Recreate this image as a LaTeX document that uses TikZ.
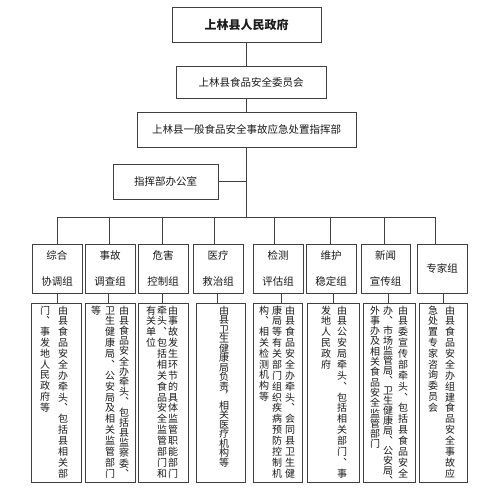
\documentclass[tikz,border=0pt]{standalone}
\usepackage{fontspec}
\setmainfont{Noto Sans CJK SC}
\newfontfamily\cjkv[RawFeature=+vert]{Noto Sans CJK SC}
\definecolor{linec}{HTML}{404040}
\definecolor{txtc}{HTML}{1A1A1A}
\makeatletter
\def\vc@item#1{\hbox to 11pt{\hss\vrule height 8.8pt depth 1.2pt width 0pt\smash{#1}\hss}}
\def\vc@loopF#1{\ifx#1\relax\else\vc@item{#1}\vfill\expandafter\vc@loopF\fi}
\def\vc@loopN#1{\ifx#1\relax\else\vc@item{#1}\vskip\vcgap\expandafter\vc@loopN\fi}
\newcommand\vfullcol[1]{\vbox to 172pt{\offinterlineskip\cjkv\fontsize{10}{10}\selectfont\vc@loopF#1\relax\unskip}}
\newcommand\vnatcol[2][0.8pt]{\vbox{\offinterlineskip\def\vcgap{#1}\cjkv\fontsize{10}{10}\selectfont\vc@loopN#2\relax\unskip}}
\makeatother
\tikzset{
  bx/.style={draw=linec, line width=0.8pt, inner sep=0pt, text=txtc, font=\fontsize{10.5}{12}\selectfont},
  grp/.style={bx, minimum width=50pt, minimum height=49pt, align=center, font=\fontsize{10.5}{26}\selectfont},
  det/.style={bx, minimum height=179pt},
  vcolnode/.style={inner sep=0pt, anchor=north, text=txtc},
  conn/.style={draw=linec, line width=0.8pt}
}
\begin{document}
\begin{tikzpicture}[x=1pt,y=-1pt]
\useasboundingbox (0,0) rectangle (485,500);
% top levels
\node[bx, minimum width=149pt, minimum height=35pt, font=\bfseries\fontsize{12}{14}\selectfont] (gov) at (246.5,24.5) {上林县人民政府};
\node[bx, minimum width=150pt, minimum height=32pt] (com) at (251,82) {上林县食品安全委员会};
\node[bx, minimum width=219pt, minimum height=35pt] (hq) at (246.5,129.5) {上林县一般食品安全事故应急处置指挥部};
\node[bx, minimum width=105pt, minimum height=35pt] (off) at (165.5,181.5) {指挥部办公室};
\coordinate (bus) at (246.5,217);
\draw[conn] (gov.south) -- (gov.south |- com.north);
\draw[conn] (gov.south |- com.south) -- (hq.north);
\draw[conn] (hq.south) -- (bus);
\draw[conn] (off.east) -- (off.east -| hq.south);
% groups
\node[grp] (g1) at (57,268.5) {综合\\协调组};
\node[grp] (g2) at (110,268.5) {事故\\调查组};
\node[grp] (g3) at (163,268.5) {危害\\控制组};
\node[grp] (g4) at (218,268.5) {医疗\\救治组};
\node[grp] (g5) at (278,268.5) {检测\\评估组};
\node[grp] (g6) at (331,268.5) {维护\\稳定组};
\node[grp, minimum width=49pt] (g7) at (385.5,268.5) {新闻\\宣传组};
\node[grp] (g8) at (442,268.5) {专家组};
\coordinate (t1) at (57,217);
\coordinate (t2) at (109,217);
\coordinate (t3) at (162,217);
\coordinate (t4) at (214,217);
\coordinate (t5) at (274,217);
\coordinate (t6) at (330,217);
\coordinate (t7) at (384,217);
\coordinate (t8) at (435,217);
\draw[conn] (t1) -- (t8);
\foreach \i in {1,...,8} {\draw[conn] (t\i) -- (t\i |- g\i.north);}
% detail boxes
\node[det, minimum width=50pt] (d1) at (56,392.5) {};
\node[det, minimum width=50pt] (d2) at (110,392.5) {};
\node[det, minimum width=50pt] (d3) at (163,392.5) {};
\node[det, minimum width=49pt] (d4) at (220.5,392.5) {};
\node[det, minimum width=49pt] (d5) at (277.5,392.5) {};
\node[det, minimum width=52pt] (d6) at (333,392.5) {};
\node[det, minimum width=52pt] (d7) at (389,392.5) {};
\node[det, minimum width=48pt] (d8) at (443,392.5) {};
\coordinate (s1) at (57,293);
\coordinate (s2) at (108,293);
\coordinate (s3) at (162,293);
\coordinate (s4) at (217,293);
\coordinate (s5) at (281,293);
\coordinate (s6) at (333,293);
\coordinate (s7) at (388,293);
\coordinate (s8) at (443,293);
\foreach \i in {1,...,8} {\draw[conn] (s\i) -- (s\i |- d\i.north);}
% vertical texts
\node[vcolnode] (c1a) at (63,305) {\vfullcol{由县食品安全办牵头、包括县相关部}};
\node[vcolnode] (c1b) at (45,305) {\vnatcol{门、事发地人民政府等}};
\node[vcolnode] (c2a) at (124,305) {\vfullcol{由县食品安全办牵头、包括县监察委、}};
\node[vcolnode] (c2b) at (110,305) {\vfullcol{卫生健康局、公安局及相关监管部门}};
\node[vcolnode] (c2c) at (96,305) {\vnatcol{等}};
\node[vcolnode] (c3a) at (173,305) {\vfullcol{由事故发生环节的具体监管职能部门}};
\node[vcolnode] (c3b) at (162,305) {\vfullcol{牵头、包括相关食品安全监管部门和}};
\node[vcolnode] (c3c) at (151,305) {\vnatcol{有关单位}};
\node[vcolnode] (c4a) at (224,305) {\vnatcol[-0.5pt]{由县卫生健康局负责，相关医疗机构等}};
\node[vcolnode] (c5a) at (290,305) {\vfullcol{由县食品安全办牵头、会同县卫生健}};
\node[vcolnode] (c5b) at (277,305) {\vfullcol{康局等有关部门组织疾病预防控制机}};
\node[vcolnode] (c5c) at (264,305) {\vnatcol{构、相关检测机构等}};
\node[vcolnode] (c6a) at (342,305) {\vfullcol{由县公安局牵头、包括相关部门、事}};
\node[vcolnode] (c6b) at (326,305) {\vnatcol{发地人民政府}};
\node[vcolnode] (c7a) at (403,305) {\vfullcol{由县委宣传部牵头、包括县食品安全}};
\node[vcolnode] (c7b) at (388,305) {\vfullcol{办、市场监管局、卫生健康局、公安局、}};
\node[vcolnode] (c7c) at (375,305) {\vnatcol[0.3pt]{外事办及相关食品安全监管部门}};
\node[vcolnode] (c8a) at (450,305) {\vfullcol{由县食品安全办组建食品安全事故应}};
\node[vcolnode] (c8b) at (433,305) {\vnatcol{急处置专家咨询委员会}};
\end{tikzpicture}
\end{document}
